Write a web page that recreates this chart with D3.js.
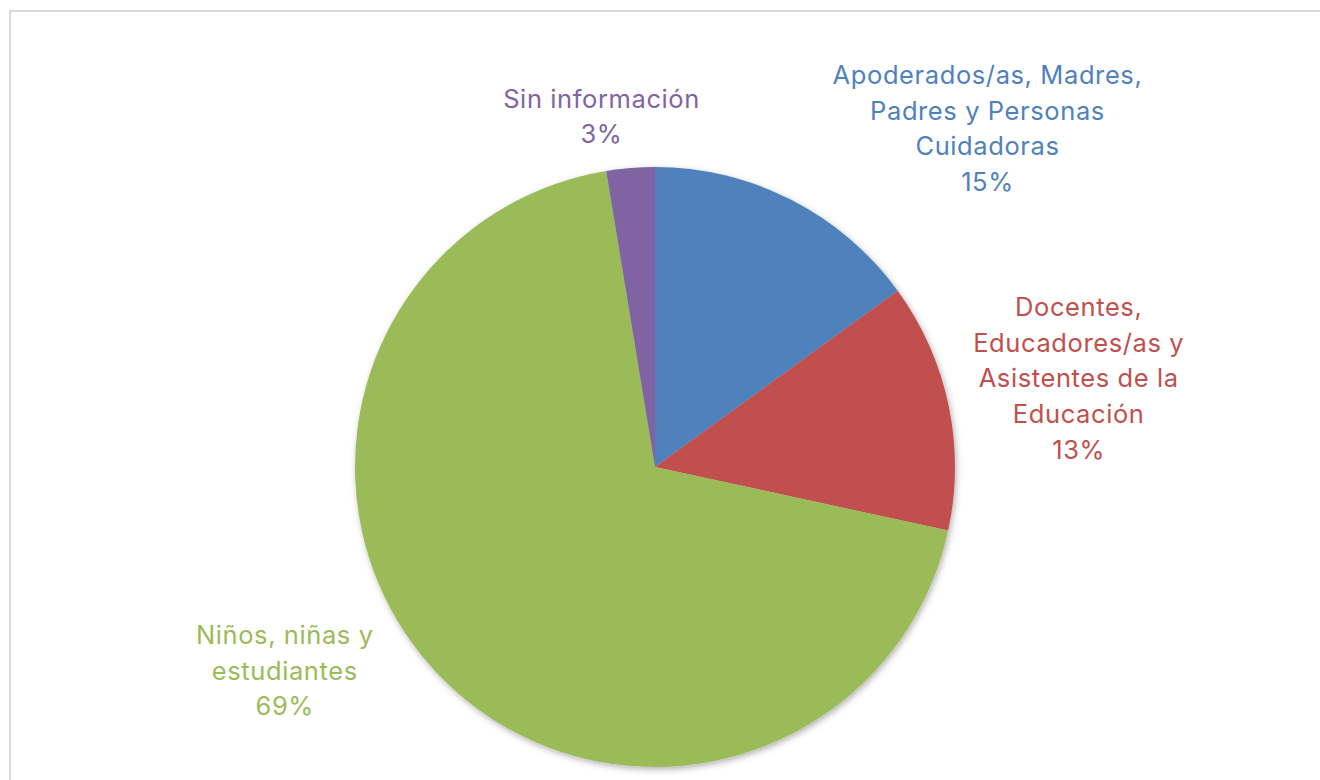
<!DOCTYPE html>
<html>
<head>
<meta charset="utf-8">
<script src="https://cdn.jsdelivr.net/npm/d3@7"></script>
<style>
  body { margin: 0; background: #fff; }
  #chart text { font-family: Inter, sans-serif; font-size: 25.5px; letter-spacing: 0.6px; }
</style>
</head>
<body>
<div id="chart"></div>
<script>
(function(){

    const width = 1320;
    const height = 780;

    // data (shares in %)
    const categories = ['Apoderados', 'Docentes', 'Ninos', 'SinInfo']
    const values = [15.0, 13.4, 69.0, 2.6]
    const labelLines = [
        ['Apoderados/as, Madres,', 'Padres y Personas', 'Cuidadoras'],
        ['Docentes,', 'Educadores/as y', 'Asistentes de la', 'Educación'],
        ['Niños, niñas y', 'estudiantes'],
        ['Sin información']
    ]

    const colors = ['#4f81bd', '#c0504d', '#9bbb59', '#8064a2']
    // label nudges from the label-arc centroid
    const nudge = [[135, 49], [-2, 1], [-55, -96], [-18, 83]]

    const cx = 655, cy = 467, radius = 300
    const lineH = 35.7

    const svg = d3.select("#chart")
        .append("svg")
        .attr("width", width)
        .attr("height", height)

    // chart area border
    svg.append("rect")
        .attr("x", 10)
        .attr("y", 11)
        .attr("width", width)
        .attr("height", height)
        .attr("fill", "none")
        .attr("stroke", "#d9d9d9")
        .attr("stroke-width", 2)

    const defs = svg.append("defs")
    const filter = defs.append("filter")
        .attr("id", "shadow")
        .attr("x", "-10%").attr("y", "-10%")
        .attr("width", "120%").attr("height", "120%")
    filter.append("feDropShadow")
        .attr("dx", 1.5)
        .attr("dy", 2.5)
        .attr("stdDeviation", 3)
        .attr("flood-color", "#000")
        .attr("flood-opacity", 0.3)

    const colorScale = d3.scaleOrdinal(categories, colors)

    const rows = categories.map(function(c, i){
        return {cat: c, value: values[i], lines: labelLines[i], idx: i}
    })
    const total = d3.sum(values)

    const pie = d3.pie()
        .sort(null)
        .value(function(d){ return d.value })

    const arcs = pie(rows)

    const arc = d3.arc().innerRadius(0).outerRadius(radius)
    const labelArc = d3.arc().innerRadius(radius * 1.45).outerRadius(radius * 1.45)

    const g = svg.append("g")
        .attr("transform", `translate(${cx},${cy})`)

    g.append("g")
        .attr("filter", "url(#shadow)")
        .selectAll("path")
        .data(arcs)
        .enter().append("path")
        .attr("d", arc)
        .attr("fill", function(d){ return colorScale(d.data.cat) })

    const fmt = function(v){ return Math.round(v / total * 100) + '%' }

    g.selectAll(".label")
        .data(arcs)
        .enter().append("text")
        .attr("class", "label")
        .attr("text-anchor", "middle")
        .attr("fill", function(d){ return colorScale(d.data.cat) })
        .each(function(d){
            const c = labelArc.centroid(d)
            const x = c[0] + nudge[d.data.idx][0]
            const y = c[1] + nudge[d.data.idx][1]
            const lines = d.data.lines.concat([fmt(d.data.value)])
            const y0 = y - (lines.length - 1) * lineH / 2
            const t = d3.select(this)
            lines.forEach(function(s, j){
                t.append("tspan")
                    .attr("x", x)
                    .attr("y", y0 + j * lineH)
                    .attr("dy", "0.35em")
                    .text(s)
            })
        })

}());
</script>
</body>
</html>
